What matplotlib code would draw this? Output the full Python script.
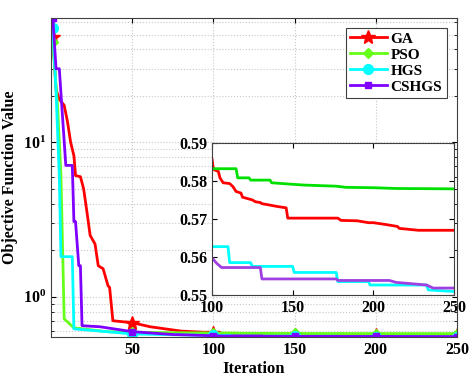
import numpy as np
import matplotlib.pyplot as plt

plt.rcParams['font.family'] = ['Liberation Serif', 'DejaVu Serif']
plt.rcParams['font.weight'] = 'bold'
plt.rcParams['mathtext.fontset'] = 'custom'
plt.rcParams['mathtext.rm'] = 'Liberation Serif:bold'
plt.rcParams['mathtext.it'] = 'Liberation Serif:bold'
plt.rcParams['mathtext.bf'] = 'Liberation Serif:bold'

# 收敛曲线数据 (迭代次数, 目标函数值)
ga_it = [1, 3, 5, 8, 10, 12, 14, 15, 18, 20, 22, 24, 27, 29, 32, 35, 36, 38, 50, 61, 80, 100,
         101, 104, 105, 107, 111, 113, 115, 118, 119, 125, 127, 130, 131, 135, 140, 146, 147, 150, 178,
         180, 190, 197, 200, 208, 215, 216, 228, 250]
ga_val = [48, 22, 19, 17.4, 13.7, 10, 8.2, 6.1, 6.0, 5.0, 3.56, 2.5, 2.2, 1.59, 1.52, 1.18, 1.15,
          0.70, 0.68, 0.64, 0.60, 0.586,
          0.583, 0.5825, 0.5808, 0.5795, 0.5793, 0.5785, 0.5772, 0.5768, 0.5757, 0.575, 0.5745, 0.5743,
          0.574, 0.5737, 0.5733, 0.5729, 0.5702, 0.5702, 0.5702,
          0.5696, 0.5695, 0.569, 0.569, 0.5685, 0.568, 0.5675, 0.567, 0.567]

pso_it = [1, 4, 6, 8, 14, 34, 50, 75, 100, 115, 116, 123, 124, 136, 137, 150, 157, 177, 183, 200, 214, 250]
pso_val = [45, 16.5, 6.1, 0.72, 0.63, 0.595, 0.59, 0.586, 0.5832, 0.5832, 0.5808, 0.5808, 0.5802,
           0.5802, 0.5795, 0.5791, 0.5789, 0.5786, 0.5783, 0.5782, 0.578, 0.5779]

hgs_it = [1, 3, 5, 6, 13, 14, 30, 50, 75, 100, 110, 111, 124, 125, 150, 151, 177, 178, 197, 198,
          200, 233, 234, 250]
hgs_val = [55, 21, 6.1, 1.82, 1.82, 0.62, 0.6, 0.575, 0.568, 0.5627, 0.5627, 0.5585, 0.5585, 0.5575,
           0.5575, 0.5559, 0.5559, 0.5535, 0.5535, 0.5526, 0.5526, 0.5526, 0.5513, 0.5509]

cshgs_it = [1, 3, 5, 9, 13, 14, 15, 17, 18, 19, 30, 50, 75, 100, 103, 106, 130, 131, 150, 177,
            178, 200, 210, 214, 233, 237, 250]
cshgs_val = [64, 30, 30, 7.1, 7.1, 3.07, 3.07, 1.59, 1.59, 0.65, 0.64, 0.595, 0.57, 0.5598,
             0.5583, 0.5572, 0.5572, 0.5542, 0.5542, 0.5542, 0.5538, 0.5538, 0.5538, 0.5533, 0.5526,
             0.5518, 0.5518]

names = ['GA', 'PSO', 'HGS', 'CSHGS']
colors = ['#ff0000', '#66ff1a', '#00ffff', '#7f00ff']
inset_colors = ['#ff0000', '#00e000', '#00ffff', '#a040e0']
markers = ['*', 'D', 'o', 's']
msizes = [10, 5, 7, 4]
mark_at = [1, 50, 100, 150, 200, 250]

series = [(ga_it, ga_val), (pso_it, pso_val), (hgs_it, hgs_val), (cshgs_it, cshgs_val)]

fig = plt.figure(figsize=(4.74, 3.82), dpi=100)
ax = fig.add_axes([0.108, 0.118, 0.856, 0.835])

for (it, val), name, c, m, ms in zip(series, names, colors, markers, msizes):
    idx = [it.index(k) for k in mark_at]
    ax.plot(it, val, color=c, lw=2, marker=m, ms=ms, markevery=idx, label=name)

ax.set_yscale('log')
ax.set_xlim(0, 250)
ax.set_ylim(0.55, 64)
ax.set_xticks([50, 100, 150, 200, 250])
ax.grid(True, which='major', ls=':', color='#c8c8c8', lw=0.8)
ax.grid(True, which='minor', axis='y', ls=':', color='#c8c8c8', lw=0.8)
ax.tick_params(which='both', direction='in', top=True, right=True, labelsize=11.5)
ax.set_xlabel('Iteration', fontsize=12, fontweight='bold', labelpad=2)
ax.set_ylabel('Objective Function Value', fontsize=11.5, fontweight='bold', labelpad=4)
for s in ax.spines.values():
    s.set_color('#404040')

leg = ax.legend(loc='upper right', fontsize=11, fancybox=False, edgecolor='#404040',
                framealpha=1, handlelength=2.4, borderpad=0.3, labelspacing=0.15,
                handletextpad=0.25, borderaxespad=0, bbox_to_anchor=(0.975, 0.97))
leg.get_frame().set_linewidth(0.8)

# 局部放大图
ins = fig.add_axes([0.447, 0.228, 0.511, 0.398])
for (it, val), c in zip(series, inset_colors):
    ins.plot(it, val, color=c, lw=2)
ins.set_xlim(100, 250)
ins.set_ylim(0.55, 0.59)
ins.set_xticks([100, 150, 200, 250])
ins.set_yticks([0.55, 0.56, 0.57, 0.58, 0.59])
ins.tick_params(direction='in', top=True, right=True, labelsize=11.5)
for s in ins.spines.values():
    s.set_color('#404040')

fig.savefig('out.png', dpi=100)
